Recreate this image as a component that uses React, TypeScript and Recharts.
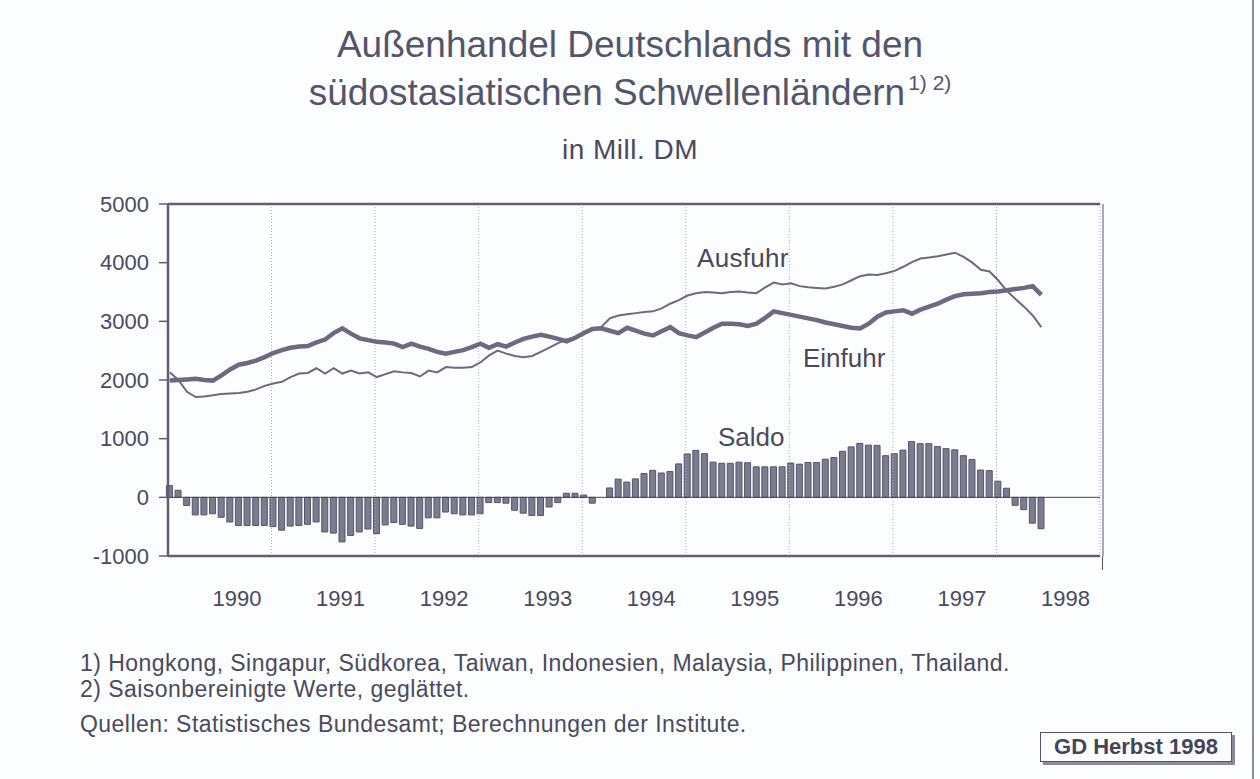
import React from "react";
import {
  ComposedChart, Bar, Line, XAxis, YAxis, ReferenceLine
} from "recharts";

// monthly values, Jan 1990 .. Jun 1998, Mill. DM
const EINFUHR = [
  1990, 2000, 2010, 2020, 2000, 1990, 2080, 2180, 2260, 2290, 2330, 2390,
  2460, 2510, 2550, 2570, 2580, 2640, 2690, 2800, 2880, 2790, 2710, 2680,
  2650, 2640, 2620, 2560, 2620, 2570, 2530, 2480, 2450, 2480, 2510, 2560,
  2620, 2550, 2610, 2570, 2640, 2700, 2740, 2770, 2740, 2700, 2660, 2720,
  2800, 2870, 2880, 2840, 2800, 2890, 2840, 2790, 2760, 2830, 2900, 2800,
  2760, 2730, 2810, 2890, 2960, 2960, 2950, 2920, 2960, 3060, 3170, 3140,
  3110, 3080, 3050, 3020, 2980, 2950, 2920, 2890, 2880, 2960, 3080, 3150,
  3170, 3190, 3130, 3200, 3250, 3300, 3370, 3430, 3460, 3470, 3480, 3500,
  3510, 3530, 3550, 3570, 3600, 3450,
];

const AUSFUHR = [
  2130, 2000, 1800, 1710, 1720, 1740, 1760, 1770, 1780, 1800, 1840, 1900,
  1940, 1970, 2050, 2110, 2120, 2200, 2110, 2200, 2110, 2160, 2110, 2130,
  2050, 2100, 2150, 2130, 2120, 2060, 2160, 2130, 2220, 2210, 2210, 2220,
  2300, 2420, 2500, 2450, 2410, 2390, 2410, 2480, 2550, 2630, 2690, 2730,
  2800, 2870, 2900, 3050, 3100, 3120, 3140, 3160, 3170, 3220, 3300, 3360,
  3440, 3480, 3500, 3490, 3480, 3500, 3510, 3490, 3480, 3580, 3660, 3630,
  3650, 3600, 3580, 3570, 3560, 3590, 3630, 3700, 3770, 3800, 3790, 3820,
  3860, 3930, 4010, 4070, 4090, 4110, 4140, 4170, 4100, 4000, 3880, 3850,
  3700, 3520, 3380, 3250, 3100, 2900,
];

const SALDO = [
  200, 120, -140, -300, -300, -280, -340, -420, -480, -480, -480, -480,
  -500, -560, -490, -480, -460, -420, -590, -610, -760, -650, -590, -540,
  -620, -470, -430, -460, -490, -530, -350, -350, -250, -280, -300, -300,
  -280, -90, -90, -100, -220, -270, -310, -310, -165, -90, 70, 70,
  40, -100, 0, 160, 310, 260, 315, 405, 460, 415, 440, 570,
  740, 800, 745, 600, 580, 580, 600, 590, 520, 520, 520, 520,
  585, 565, 595, 595, 650, 680, 785, 860, 920, 890, 886, 710,
  745, 805, 950, 915, 915, 865, 830, 810, 710, 645, 465, 455,
  275, 155, -136, -210, -440, -535,
];

const YEARS = [1990, 1991, 1992, 1993, 1994, 1995, 1996, 1997, 1998];
const Y_TICKS = [-1000, 0, 1000, 2000, 3000, 4000, 5000];

const data = EINFUHR.map((v, i) => ({
  t: i + 0.2,
  einfuhr: v,
  ausfuhr: AUSFUHR[i],
  saldo: SALDO[i],
}));

const yearTicks = YEARS.map((_, k) => k * 12 + 8);
const yearBounds = YEARS.map((_, k) => (k + 1) * 12);

const FONT = '"Liberation Sans", Arial, Helvetica, sans-serif';
const INK = "#4a4a5c";
const LINE = "#6a6a80";
const AXIS = "#5e5e74";

const abs = (left: number, top: number, size: number, extra: React.CSSProperties = {}): React.CSSProperties => ({
  position: "absolute", left, top, fontSize: size, lineHeight: `${size}px`, whiteSpace: "nowrap", color: INK, ...extra,
});

export default function App() {
  return (
    <div style={{ position: "absolute", left: 0, top: 0, width: 1260, height: 779, background: "#fcfdfe", fontFamily: FONT, overflow: "hidden" }}>
      <div style={{ position: "absolute", left: 1252, top: 0, width: 2, height: 779, background: "#8a8a98" }} />

      <div style={abs(0, 26, 37, { width: 1260, textAlign: "center", color: "#55556a" })}>
        Außenhandel Deutschlands mit den
      </div>
      <div style={abs(0, 74, 37, { width: 1260, textAlign: "center", color: "#55556a" })}>
        südostasiatischen Schwellenländern
        <span style={{ fontSize: 21, lineHeight: "0px", position: "relative", top: -15, marginLeft: 3 }}>1) 2)</span>
      </div>
      <div style={abs(0, 136, 28, { width: 1260, textAlign: "center", letterSpacing: 0.5 })}>in Mill. DM</div>

      <ComposedChart
        width={1260}
        height={779}
        data={data}
        margin={{ top: 204, right: 160, left: 108, bottom: 163 }}
        style={{ position: "absolute", left: 0, top: 0 }}
      >
        <XAxis
          dataKey="t"
          type="number"
          domain={[0, 108]}
          ticks={yearTicks}
          tickFormatter={(v: number) => String(YEARS[Math.round((v - 8) / 12)])}
          height={60}
          tickLine={false}
          tickMargin={28}
          axisLine={{ stroke: AXIS, strokeWidth: 2.5 }}
          tick={{ fill: INK, fontSize: 22, fontFamily: FONT }}
        />
        <YAxis
          domain={[-1000, 5000]}
          ticks={Y_TICKS}
          width={60}
          tickSize={9}
          tickMargin={10}
          axisLine={{ stroke: AXIS, strokeWidth: 2.5 }}
          tickLine={{ stroke: AXIS, strokeWidth: 1.5 }}
          tick={{ fill: INK, fontSize: 22, fontFamily: FONT }}
          allowDataOverflow
        />
        {yearBounds.map((b) => (
          <ReferenceLine key={b} x={b} stroke="#a8a8b4" strokeDasharray="1 2" strokeWidth={1} />
        ))}
        <ReferenceLine x={108} stroke="#55556a" strokeWidth={1} transform="translate(3,0)" />
        <ReferenceLine y={5000} stroke={AXIS} strokeWidth={2.5} />
        <ReferenceLine y={0} stroke="#44445a" strokeWidth={1} />
        <Bar dataKey="saldo" barSize={6} fill="#7c7c90" stroke="#55556a" strokeWidth={1} isAnimationActive={false} />
        <Line type="linear" dataKey="ausfuhr" stroke={LINE} strokeWidth={2} dot={false} isAnimationActive={false} />
        <Line type="linear" dataKey="einfuhr" stroke={LINE} strokeWidth={4.5} dot={false} isAnimationActive={false} />
      </ComposedChart>
      <div style={{ position: "absolute", left: 1102, top: 556, width: 1, height: 14, background: "#55556a" }} />

      <div style={abs(697, 245, 26, { letterSpacing: 0.3 })}>Ausfuhr</div>
      <div style={abs(803, 345, 26)}>Einfuhr</div>
      <div style={abs(718, 424, 26)}>Saldo</div>

      <div style={abs(80, 652, 23, { letterSpacing: 0.45 })}>1) Hongkong, Singapur, Südkorea, Taiwan, Indonesien, Malaysia, Philippinen, Thailand.</div>
      <div style={abs(80, 678, 23, { letterSpacing: 0.45 })}>2) Saisonbereinigte Werte, geglättet.</div>
      <div style={abs(80, 713, 23, { letterSpacing: 0.45 })}>Quellen: Statistisches Bundesamt; Berechnungen der Institute.</div>

      <div style={{
        position: "absolute", left: 1040, top: 732, width: 192, height: 30, border: "1px solid #55556a",
        boxShadow: "3px 3px 0 #8a8a98", background: "#fcfdfe", boxSizing: "border-box",
        display: "flex", alignItems: "center", justifyContent: "center",
        fontSize: 22, fontWeight: "bold", color: "#44445a",
      }}>
        GD Herbst 1998
      </div>
    </div>
  );
}
